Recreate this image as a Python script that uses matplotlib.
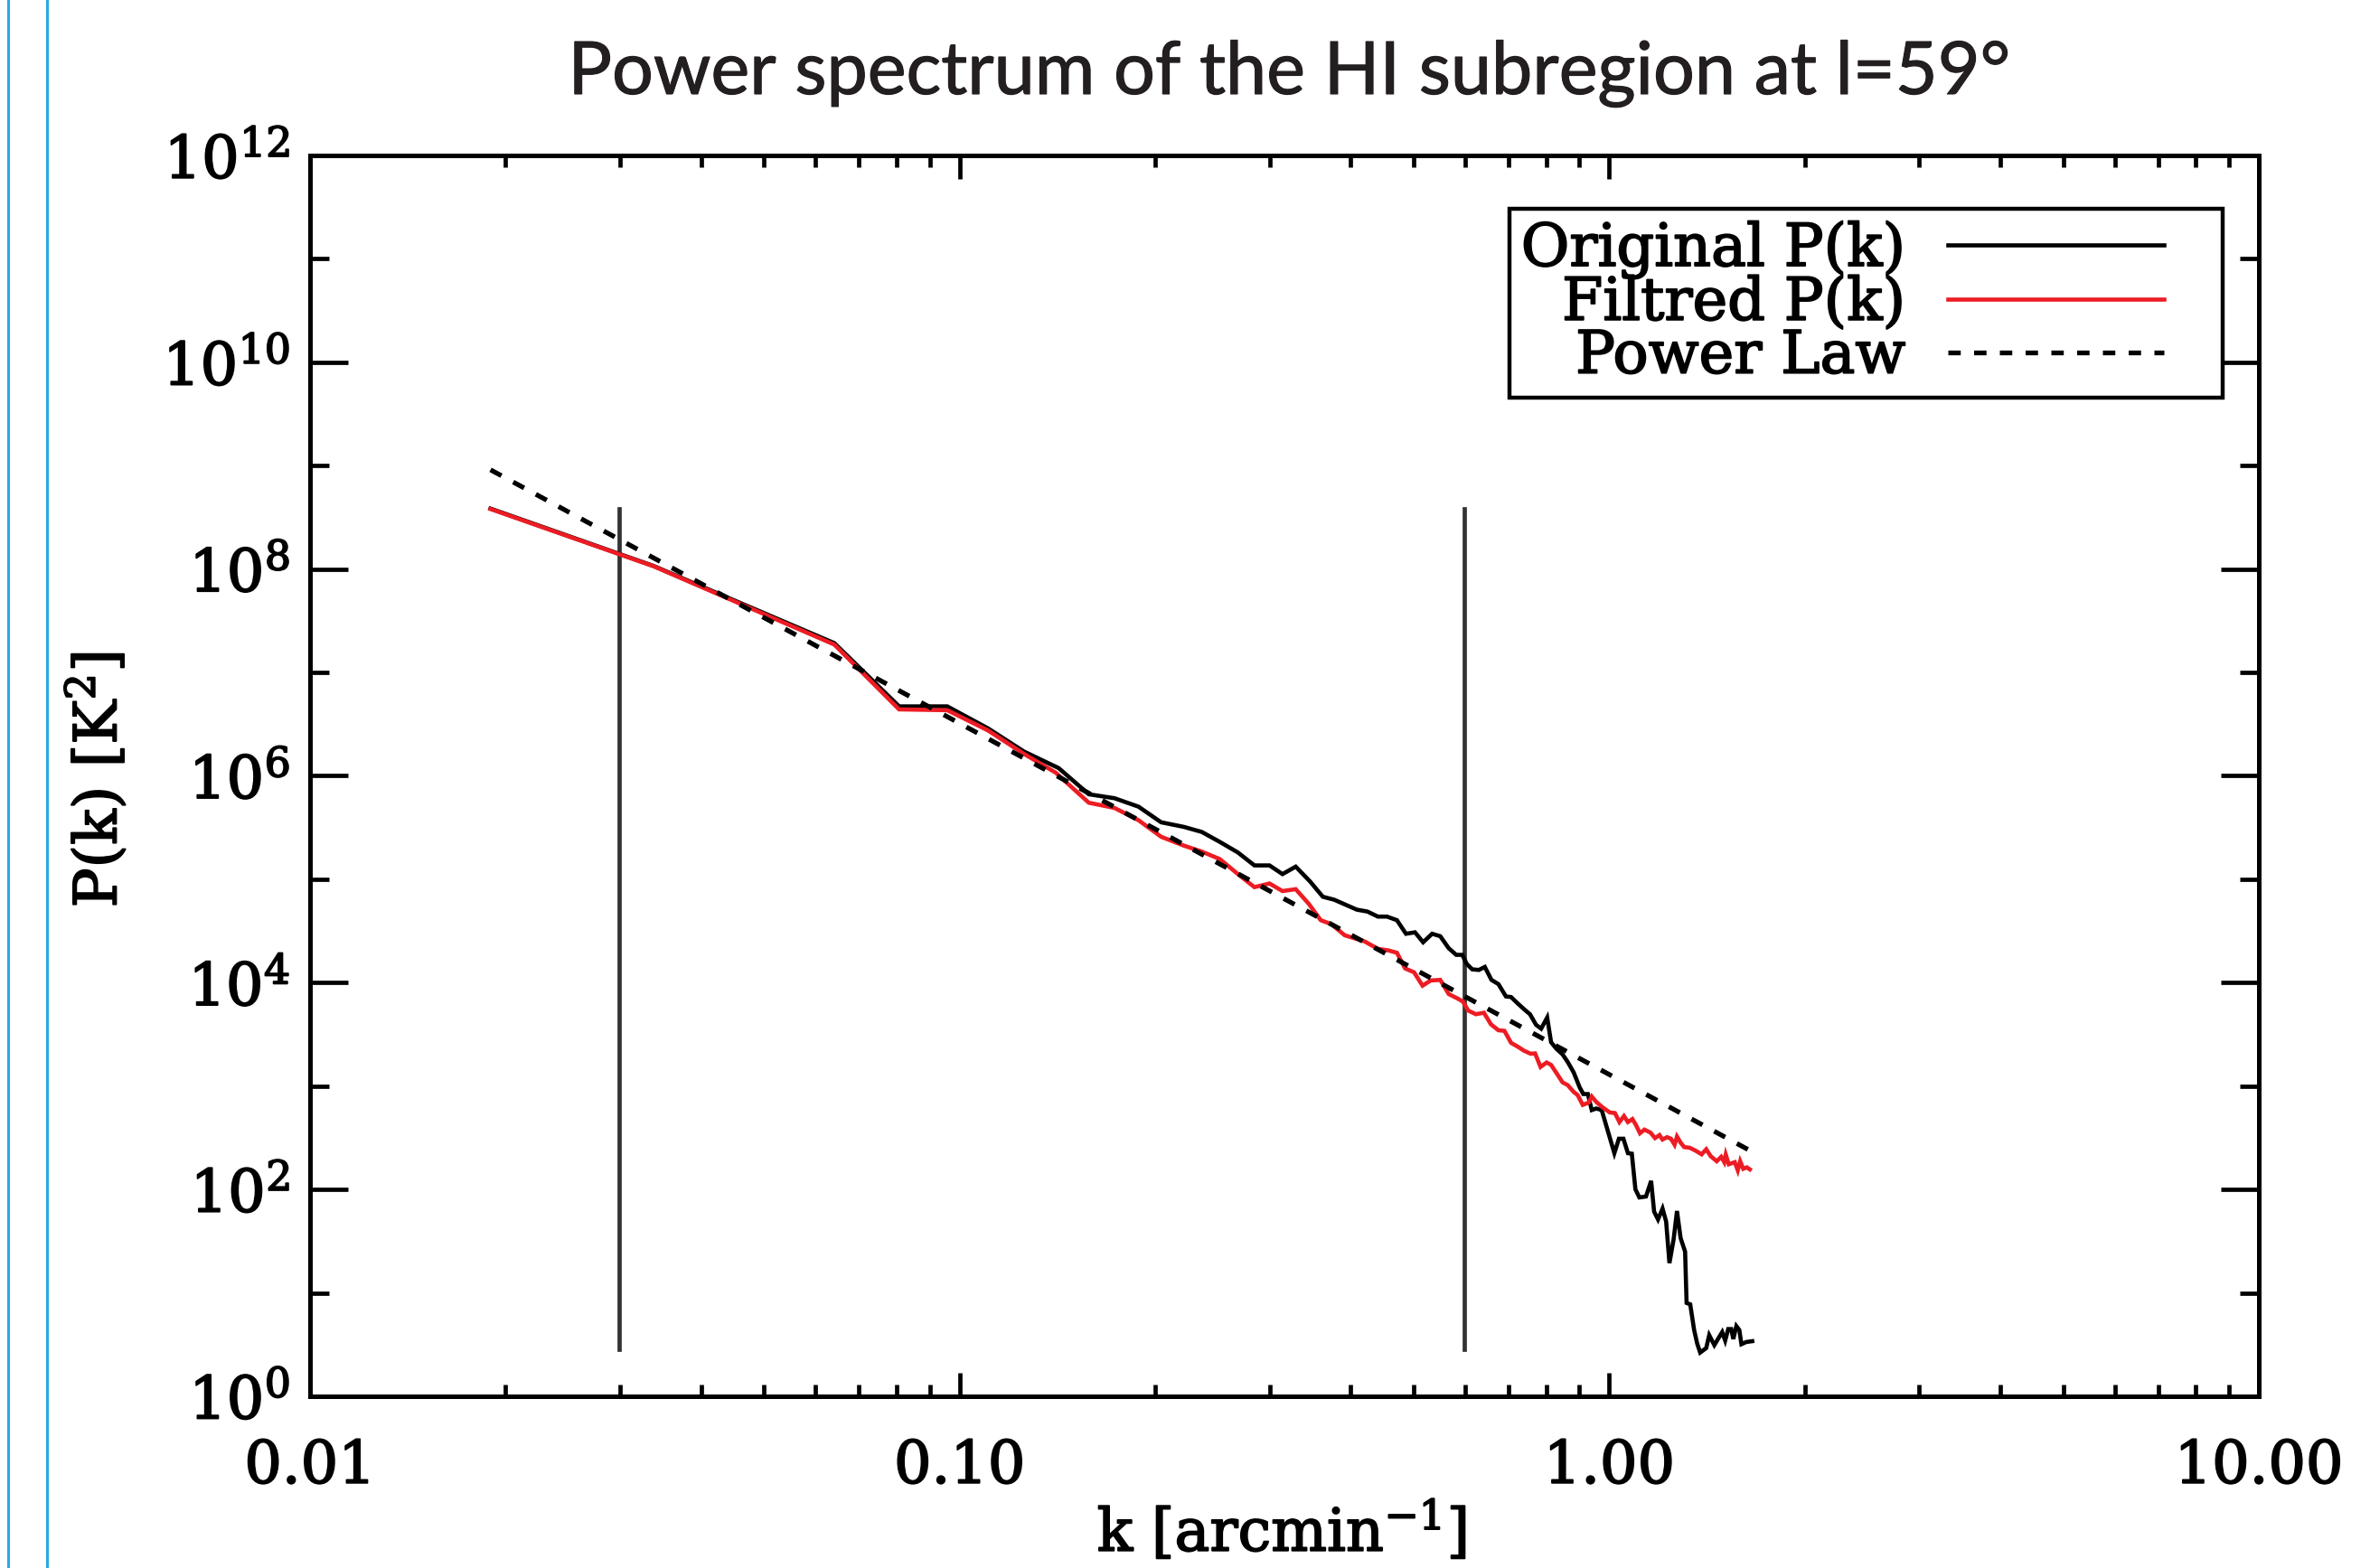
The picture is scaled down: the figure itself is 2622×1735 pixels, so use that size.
import matplotlib
matplotlib.use("Agg")
import numpy as np
import matplotlib.pyplot as plt
import matplotlib.patheffects as pe
from matplotlib.ticker import FixedLocator, FixedFormatter, NullFormatter
from matplotlib.lines import Line2D
from matplotlib.legend_handler import HandlerLine2D

# ---------------- data ----------------
TITLE = "Power spectrum of the HI subregion at l=59°"
X_LABEL = r"k [arcmin$^{-1}$]"
Y_LABEL = r"P(k) [K$^{2}$]"
LEGEND_LABELS = ["Original P(k)", "Filtred P(k)", "Power Law"]

# original P(k): log10(k [arcmin^-1]) and log10(P [K^2])
log10_k_original = [
    -1.7223, -1.4711, -1.1929, -1.0932, -1.0190, -0.9565, -0.9008, -0.8475,
    -0.8011, -0.7617, -0.7246, -0.6898, -0.6551, -0.6273, -0.5994, -0.5716,
    -0.5462, -0.5230, -0.5030, -0.4826, -0.4603, -0.4409, -0.4233, -0.3885,
    -0.3723, -0.3561, -0.3421, -0.3268, -0.3129, -0.2990, -0.2865, -0.2726,
    -0.2601, -0.2471, -0.2355, -0.2262, -0.2193, -0.2109, -0.2007, -0.1915,
    -0.1813, -0.1706, -0.1590, -0.1511, -0.1405, -0.1312, -0.1220, -0.1127,
    -0.1048, -0.0955, -0.0895, -0.0812, -0.0719, -0.0640, -0.0547, -0.0455,
    -0.0399, -0.0329, -0.0269, -0.0200, -0.0116, 0.0079, 0.0149, 0.0218,
    0.0288, 0.0348, 0.0403, 0.0464, 0.0566, 0.0645, 0.0691, 0.0751,
    0.0821, 0.0876, 0.0927, 0.0992, 0.1043, 0.1099, 0.1168, 0.1191,
    0.1247, 0.1307, 0.1354, 0.1400, 0.1493, 0.1539, 0.1618, 0.1739,
    0.1785, 0.1832, 0.1878, 0.1910, 0.1957, 0.2003, 0.2035, 0.2110, 0.2202,
]
log10_P_original = [
    8.585, 8.030, 7.284, 6.672, 6.672, 6.460, 6.235, 6.075,
    5.822, 5.784, 5.702, 5.551, 5.507, 5.458, 5.361, 5.259,
    5.134, 5.134, 5.050, 5.122, 4.977, 4.831, 4.802, 4.706,
    4.688, 4.639, 4.639, 4.604, 4.473, 4.487, 4.391, 4.473,
    4.449, 4.333, 4.269, 4.269, 4.181, 4.129, 4.123, 4.152,
    4.027, 3.986, 3.867, 3.861, 3.797, 3.744, 3.695, 3.593,
    3.555, 3.663, 3.424, 3.360, 3.307, 3.234, 3.132, 2.987,
    2.923, 2.923, 2.768, 2.783, 2.768, 2.351, 2.491, 2.491,
    2.351, 2.346, 2.002, 1.923, 1.932, 2.083, 1.786, 1.710,
    1.815, 1.690, 1.288, 1.521, 1.792, 1.530, 1.399, 0.903,
    0.889, 0.641, 0.510, 0.423, 0.466, 0.591, 0.495, 0.621,
    0.539, 0.650, 0.650, 0.554, 0.679, 0.641, 0.504, 0.525, 0.533,
]

# filtered P(k)
log10_k_filtered = [
    -1.7223, -1.4711, -1.1929, -1.0932, -1.0190, -0.9565, -0.9008, -0.8521,
    -0.8011, -0.7617, -0.7246, -0.6898, -0.6551, -0.6273, -0.5994, -0.5716,
    -0.5462, -0.5230, -0.5030, -0.4826, -0.4627, -0.4441, -0.4279, -0.4071,
    -0.3769, -0.3561, -0.3398, -0.3268, -0.3143, -0.3004, -0.2874, -0.2749,
    -0.2601, -0.2471, -0.2332, -0.2253, -0.2170, -0.2054, -0.1929, -0.1822,
    -0.1706, -0.1613, -0.1511, -0.1405, -0.1312, -0.1210, -0.1141, -0.1057,
    -0.0964, -0.0895, -0.0812, -0.0719, -0.0640, -0.0547, -0.0487, -0.0408,
    -0.0315, -0.0269, -0.0200, -0.0107, 0.0009, 0.0088, 0.0157, 0.0227,
    0.0287, 0.0357, 0.0412, 0.0473, 0.0542, 0.0635, 0.0705, 0.0774,
    0.0820, 0.0890, 0.0950, 0.1006, 0.1043, 0.1099, 0.1154, 0.1238,
    0.1330, 0.1423, 0.1493, 0.1562, 0.1655, 0.1724, 0.1771, 0.1794,
    0.1840, 0.1933, 0.1979, 0.2016, 0.2063, 0.2118, 0.2165,
]
log10_P_filtered = [
    8.581, 8.027, 7.270, 6.643, 6.635, 6.440, 6.212, 6.031,
    5.740, 5.690, 5.571, 5.411, 5.326, 5.268, 5.195, 5.050,
    4.924, 4.959, 4.886, 4.904, 4.764, 4.604, 4.566, 4.458,
    4.400, 4.327, 4.312, 4.289, 4.138, 4.100, 3.971, 4.021,
    4.027, 3.890, 3.846, 3.817, 3.730, 3.695, 3.709, 3.598,
    3.540, 3.534, 3.418, 3.380, 3.342, 3.313, 3.316, 3.185,
    3.228, 3.205, 3.126, 3.036, 3.010, 2.943, 2.914, 2.818,
    2.841, 2.899, 2.847, 2.797, 2.745, 2.739, 2.652, 2.710,
    2.652, 2.681, 2.623, 2.544, 2.579, 2.550, 2.497, 2.526,
    2.483, 2.506, 2.491, 2.433, 2.512, 2.453, 2.410, 2.404,
    2.375, 2.340, 2.389, 2.322, 2.273, 2.316, 2.264, 2.337,
    2.244, 2.264, 2.185, 2.273, 2.200, 2.214, 2.194,
]

# power-law fit (straight line in log-log: end points)
powerlaw_k = [0.01896, 1.655]
powerlaw_P = [9.12e8, 234.0]

# fitting-range markers
cut_k = [0.0299, 0.598]
cut_P_range = [2.83, 3.84e8]

x_tick_values = [0.01, 0.1, 1.0, 10.0]
x_tick_labels = ["0.01", "0.10", "1.00", "10.00"]
y_tick_exponents = [0, 2, 4, 6, 8, 10, 12]
y_minor_exponents = [1, 3, 5, 7, 9, 11]

# ---------------- figure ----------------
plt.rcParams["font.family"] = ["DejaVu Serif"]
plt.rcParams["mathtext.fontset"] = "dejavuserif"

W, H = 2622, 1735
fig = plt.figure(figsize=(W / 100, H / 100), dpi=100)
fig.patch.set_facecolor("white")

heavy = [pe.withStroke(linewidth=1.3, foreground="black")]

L, R, T, B = 343, 2499, 172, 1545
ax = fig.add_axes([L / W, (H - B) / H, (R - L) / W, (B - T) / H])
ax.set_xscale("log")
ax.set_yscale("log")
ax.set_xlim(0.01, 10)
ax.set_ylim(1, 1e12)

k_orig = np.power(10.0, log10_k_original)
P_orig = np.power(10.0, log10_P_original)
k_filt = np.power(10.0, log10_k_filtered)
P_filt = np.power(10.0, log10_P_filtered)

for kc in cut_k:
    ax.plot([kc, kc], cut_P_range, color="#333333", lw=3.4, zorder=2)

l_orig, = ax.plot(k_orig, P_orig, color="black", lw=3.3, zorder=3,
                  solid_joinstyle="miter")
l_filt, = ax.plot(k_filt, P_filt, color="#ED1C24", lw=3.3, zorder=4,
                  solid_joinstyle="miter")
l_pow, = ax.plot(powerlaw_k, powerlaw_P, color="black", lw=3.8,
                 dashes=(2.6, 2.8), zorder=5)

# spines & ticks
for sp in ax.spines.values():
    sp.set_linewidth(3.6)
    sp.set_color("black")

ax.xaxis.set_major_locator(FixedLocator(x_tick_values))
ax.xaxis.set_major_formatter(FixedFormatter(x_tick_labels))
x_minor = [m * d for d in [0.01, 0.1, 1.0] for m in range(2, 10)]
ax.xaxis.set_minor_locator(FixedLocator(x_minor))
ax.xaxis.set_minor_formatter(NullFormatter())

ax.yaxis.set_major_locator(FixedLocator([10.0 ** e for e in y_tick_exponents]))
ax.yaxis.set_major_formatter(FixedFormatter([r"$10^{%d}$" % e for e in y_tick_exponents]))
ax.yaxis.set_minor_locator(FixedLocator([10.0 ** e for e in y_minor_exponents]))
ax.yaxis.set_minor_formatter(NullFormatter())

ax.tick_params(axis="both", which="both", direction="in", top=True, right=True,
               width=3.4, color="black")
ax.tick_params(axis="x", which="major", length=19, pad=33, labelsize=47)
ax.tick_params(axis="x", which="minor", length=9.5)
ax.tick_params(axis="y", which="major", length=30, pad=16, labelsize=47)
ax.tick_params(axis="y", which="minor", length=15)

for lab in ax.get_xticklabels() + ax.get_yticklabels():
    lab.set_path_effects(heavy)

# legend
leg = ax.legend([l_orig, l_filt, l_pow], LEGEND_LABELS,
                loc="upper right", bbox_to_anchor=(0.9815, 0.957),
                borderaxespad=0, markerfirst=False, fancybox=False,
                framealpha=1, edgecolor="black",
                prop={"family": "DejaVu Serif", "size": 47},
                numpoints=2,
                handler_map={Line2D: HandlerLine2D(marker_pad=0.79)},
                handlelength=5.25, handletextpad=-0.07, labelspacing=-0.08,
                borderpad=0.2)
leg.get_frame().set_linewidth(3.2)
for t in leg.get_texts():
    t.set_path_effects(heavy)

# labels
fig.text(1418 / W, 1 - 1694 / H, X_LABEL, fontsize=47, ha="center", va="center",
         path_effects=heavy)
fig.text(107 / W, 1 - 863 / H, Y_LABEL, fontsize=47, ha="center", va="center",
         rotation=90, path_effects=heavy)

title = fig.text(1426 / W, 1 - 104 / H, TITLE, fontfamily=["Lato", "DejaVu Sans"],
                 fontsize=54, ha="center", va="baseline", color="#231F20",
                 path_effects=[pe.withStroke(linewidth=0.8, foreground="#231F20")])
fig.canvas.draw()
w = title.get_window_extent().width
title.set_fontsize(54 * 1595.0 / w)

# blue frame lines at the left edge
for xb in (9, 52):
    fig.add_artist(Line2D([xb / W, xb / W], [0, 1], transform=fig.transFigure,
                          color="#29ABE2", lw=2.2))

fig.savefig("out.png", dpi=100, facecolor="white")
